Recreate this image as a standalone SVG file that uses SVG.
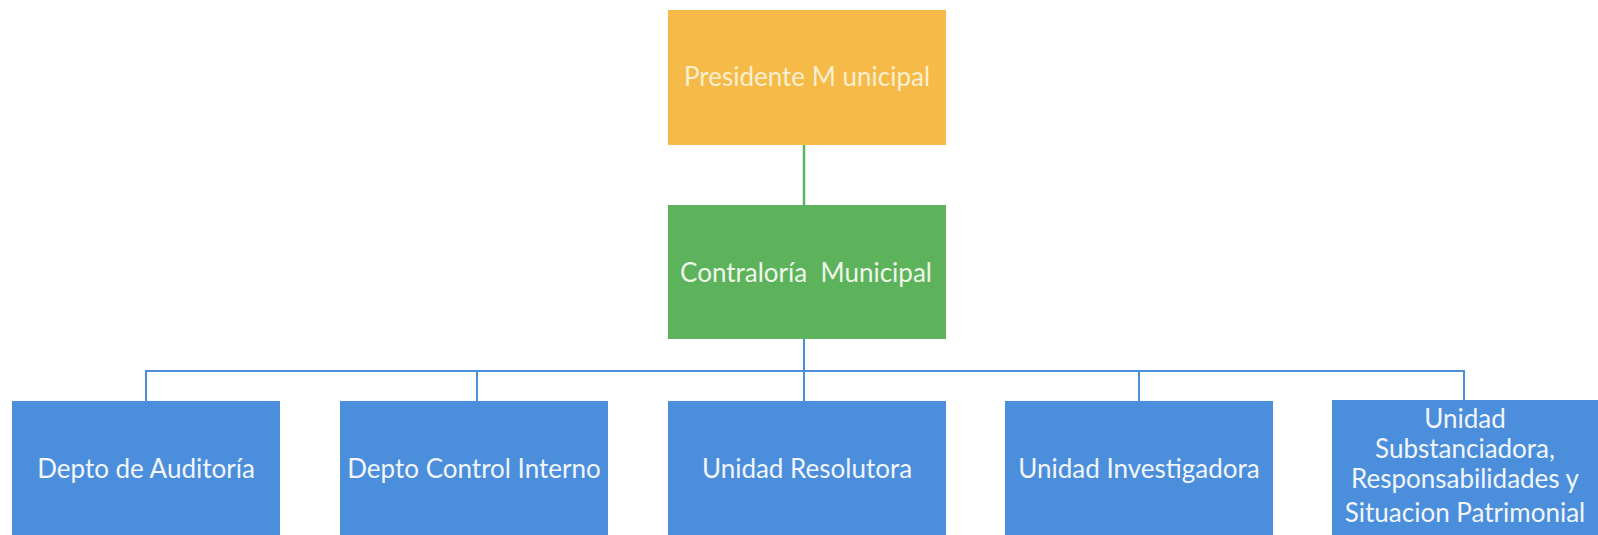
<svg xmlns="http://www.w3.org/2000/svg" width="1598" height="535" viewBox="0 0 1598 535">
<style>
.box{stroke:none}
.orange{fill:#F5BA48}
.green{fill:#5DB35B}
.blue{fill:#4B8EDB}
.t{font-family:Lato,"Open Sans","Liberation Sans",sans-serif;font-size:26px;fill:#FFFFFF;text-anchor:middle}
.tp{fill:#FBEFD0}
.tg{fill:#EEF6EA}
.tb{fill:#F2F6FC}
.cg{stroke:#5DB35B;stroke-width:2.5;fill:none}
.cb{stroke:#4B8EDB;stroke-width:2;fill:none}
</style>
<rect width="1598" height="535" fill="#FFFFFF"/>
<g id="connectors">
<line class="cg" x1="804" y1="145" x2="804" y2="205"/>
<line class="cb" x1="804" y1="339" x2="804" y2="401"/>
<polyline class="cb" points="146,401 146,371 1464,371 1464,400"/>
<line class="cb" x1="477" y1="371" x2="477" y2="401"/>
<line class="cb" x1="1139" y1="371" x2="1139" y2="401"/>
</g>
<g id="presidente">
<rect class="box orange" x="668" y="10" width="278" height="135"/>
<text class="t tp" x="807" y="86">Presidente M unicipal</text>
</g>
<g id="contraloria">
<rect class="box green" x="668" y="205" width="278" height="134"/>
<text class="t tg" x="806" y="282" xml:space="preserve">Contraloría  Municipal</text>
</g>
<g id="auditoria">
<rect class="box blue" x="12" y="401" width="268" height="134"/>
<text class="t tb" x="146" y="478">Depto de Auditoría</text>
</g>
<g id="control-interno">
<rect class="box blue" x="340" y="401" width="268" height="134"/>
<text class="t tb" x="474" y="478">Depto Control Interno</text>
</g>
<g id="resolutora">
<rect class="box blue" x="668" y="401" width="278" height="134"/>
<text class="t tb" x="807" y="478">Unidad Resolutora</text>
</g>
<g id="investigadora">
<rect class="box blue" x="1005" y="401" width="268" height="134"/>
<text class="t tb" x="1139" y="478">Unidad Investigadora</text>
</g>
<g id="substanciadora">
<rect class="box blue" x="1332" y="400" width="266" height="135"/>
<text class="t tb" x="1465" y="428">Unidad</text>
<text class="t tb" x="1465" y="458">Substanciadora,</text>
<text class="t tb" x="1465" y="488">Responsabilidades y</text>
<text class="t tb" x="1465" y="522">Situacion Patrimonial</text>
</g>
</svg>
